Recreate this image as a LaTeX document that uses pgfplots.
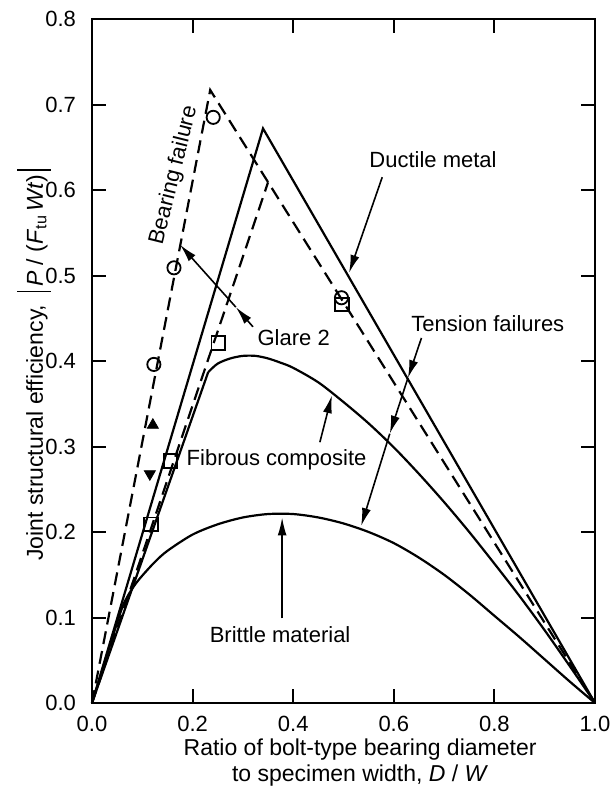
\documentclass[border=0pt]{standalone}
\usepackage{fontspec}
\setmainfont{Liberation Sans}
\usepackage{pgfplots}
\pgfplotsset{compat=1.18}
\usetikzlibrary{arrows.meta}

\tikzset{
  ann/.style={font=\fontsize{11}{13}\selectfont, inner sep=0pt},
  arr/.style={line width=0.8pt, -{Latex[length=9pt,width=4.5pt]}},
}

\begin{document}
\begin{tikzpicture}
\begin{axis}[
  scale only axis,
  width=251.5pt, height=342pt,
  xmin=0, xmax=1, ymin=0, ymax=0.8,
  xtick={0,0.2,...,1.0}, ytick={0,0.1,...,0.8},
  xtick pos=both, ytick pos=both,
  xticklabel pos=lower, yticklabel pos=left,
  tick align=inside,
  major tick length=7pt,
  every tick/.style={line width=1pt, black},
  axis line style={line width=1.2pt},
  /pgf/number format/assume math mode=true,
  /pgf/number format/.cd, fixed, fixed zerofill, precision=1,
  /pgfplots/.cd,
  tick label style={font=\fontsize{11}{13}\selectfont},
  xticklabel style={yshift=-3pt},
  yticklabel style={xshift=-4.5pt},
  xlabel={Ratio of bolt-type bearing diameter\\to specimen width, \textit{D} / \textit{W}},
  xlabel style={align=center, font=\fontsize{11.5}{13}\selectfont,
    at={(axis description cs:0.533,-0.0877)}, anchor=center},
  ylabel={Joint structural efficiency,\ \ \rule[-0.35em]{0.7pt}{1.45em}\,\textit{P} / (\textit{F}\textsubscript{tu}\,\textit{Wt})\,\rule[-0.35em]{0.7pt}{1.45em}},
  ylabel style={font=\fontsize{11.5}{13}\selectfont,
    at={(axis description cs:-0.115,0.494)}, anchor=center},
  clip=false,
]

% ductile metal: net-section tension line meeting the bearing line
\addplot[line width=1.1pt] coordinates {(0,0) (0.34,0.672) (1,0)};

% bearing failure envelope (dashed)
\addplot[line width=1.1pt, dash pattern=on 6.5pt off 3.5pt] coordinates {(0,0) (0.235,0.717) (1,0)};
\addplot[line width=1.1pt, dash pattern=on 6.5pt off 3.5pt] coordinates {(0,0) (0.35,0.609)};

% fibrous composite
\addplot[line width=1.1pt] coordinates {(0,0) (0.231,0.387)};
\addplot[line width=1.1pt, smooth, tension=0.5] coordinates {
  (0.231,0.387) (0.25,0.397) (0.275,0.403) (0.30,0.406) (0.325,0.406)
  (0.35,0.403) (0.375,0.398) (0.40,0.392) (0.45,0.375) (0.50,0.352)
  (0.55,0.327) (0.60,0.299) (0.65,0.268) (0.70,0.235) (0.75,0.200)
  (0.80,0.163) (0.85,0.125) (0.90,0.085) (0.95,0.043) (1,0)};

% brittle material
\addplot[line width=1.1pt, smooth, tension=0.5] coordinates {
  (0,0) (0.055,0.103) (0.07,0.124) (0.085,0.138) (0.10,0.149)
  (0.125,0.165) (0.15,0.178) (0.20,0.197) (0.25,0.209) (0.30,0.217)
  (0.35,0.221) (0.40,0.221) (0.45,0.217) (0.50,0.210) (0.55,0.200)
  (0.60,0.187) (0.65,0.170) (0.70,0.150) (0.75,0.127) (0.80,0.102)
  (0.85,0.077) (0.90,0.051) (0.95,0.025) (1,0)};

% Glare 2 test points
\addplot[only marks, mark=o, mark size=3.3pt, mark options={line width=0.9pt, fill=white}]
  coordinates {(0.123,0.396) (0.163,0.509) (0.241,0.685) (0.496,0.474)};
\addplot[only marks, mark=square, mark size=3.4pt, mark options={line width=0.9pt, fill=white}]
  coordinates {(0.117,0.209) (0.156,0.283) (0.251,0.421) (0.497,0.466)};
\addplot[only marks, mark=triangle*, mark size=3.2pt, black]
  coordinates {(0.121,0.325)};
\addplot[only marks, mark=triangle*, mark size=3.2pt, black, mark options={rotate=180}]
  coordinates {(0.115,0.268)};

% labels and leaders
\node[ann, rotate=76] at (axis cs:0.163,0.617) {Bearing failure};

\node[ann] at (axis cs:0.401,0.427) {Glare 2};
\draw[arr] (axis cs:0.32,0.44) -- (axis cs:0.286,0.463);
\draw[arr] (axis cs:0.286,0.463) -- (axis cs:0.175,0.536);

\node[ann] at (axis cs:0.678,0.635) {Ductile metal};
\draw[arr] (axis cs:0.577,0.615) -- (axis cs:0.511,0.503);

\node[ann] at (axis cs:0.787,0.444) {Tension failures};
\draw[arr] (axis cs:0.655,0.427) -- (axis cs:0.628,0.380);
\draw[arr] (axis cs:0.628,0.380) -- (axis cs:0.592,0.315);
\draw[arr] (axis cs:0.592,0.315) -- (axis cs:0.535,0.207);

\node[ann] at (axis cs:0.367,0.284) {Fibrous composite};
\draw[arr] (axis cs:0.453,0.305) -- (axis cs:0.477,0.360);

\node[ann] at (axis cs:0.374,0.0795) {Brittle material};
\draw[arr] (axis cs:0.378,0.099) -- (axis cs:0.378,0.217);

\end{axis}
% page frame around the axis and its labels
\pgfresetboundingbox
\path (current axis.south west) ++(-46pt,-43pt) rectangle ++(305.5pt,394.5pt);
\end{tikzpicture}
\end{document}
